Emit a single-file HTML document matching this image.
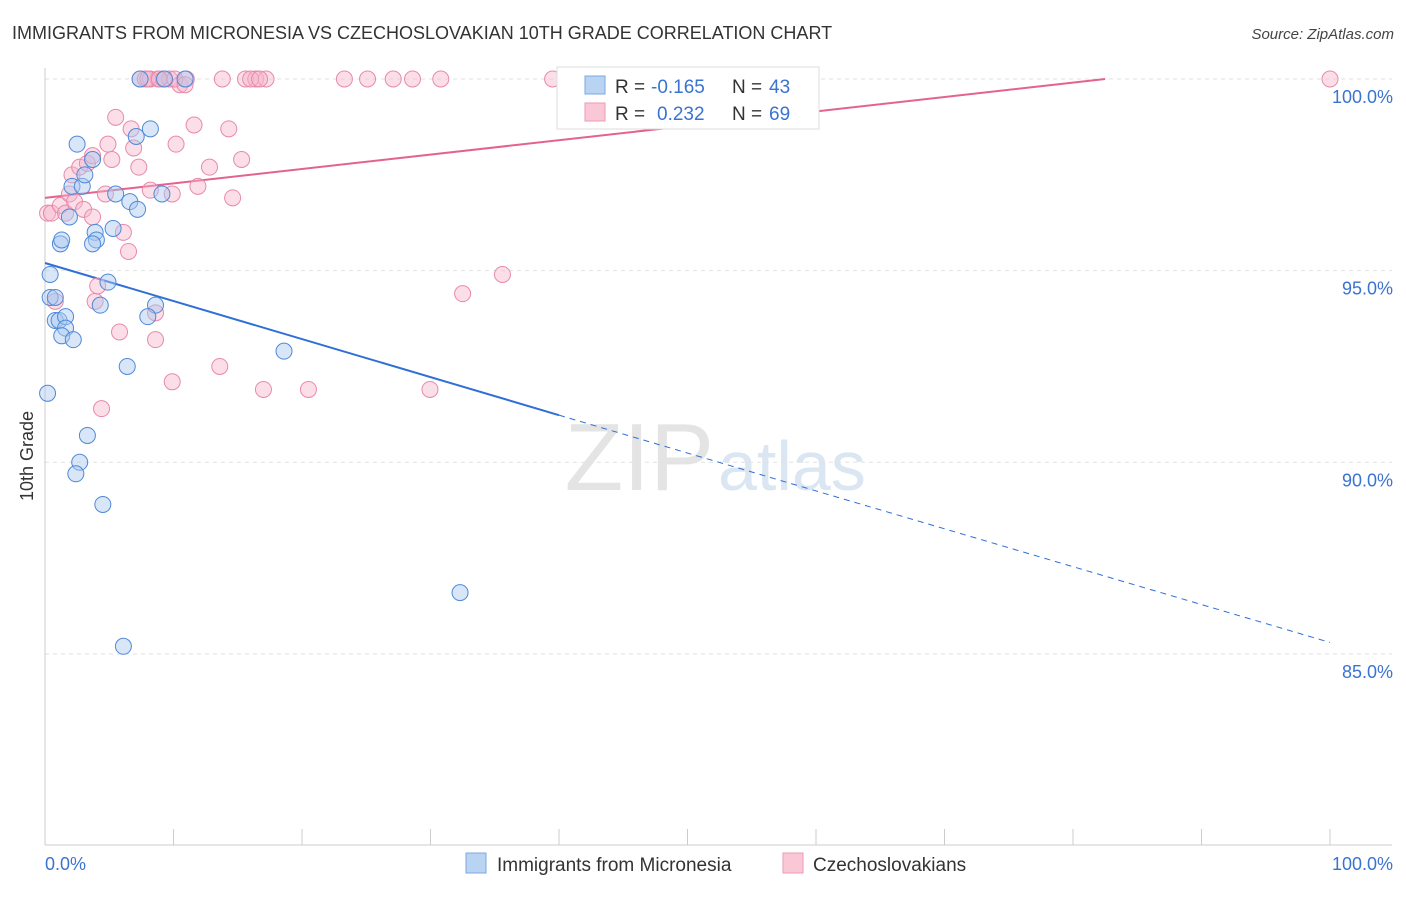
<!DOCTYPE html>
<html><head><meta charset="utf-8"><style>
body{margin:0;background:#fff;font-family:"Liberation Sans",sans-serif;}
svg text{font-family:"Liberation Sans",sans-serif;}
</style></head><body>
<svg id="chart" width="1406" height="892" xmlns="http://www.w3.org/2000/svg">
<text x="12" y="39" font-size="18" fill="#333">IMMIGRANTS FROM MICRONESIA VS CZECHOSLOVAKIAN 10TH GRADE CORRELATION CHART</text>
<text x="1394" y="39" font-size="15" fill="#444" text-anchor="end" font-style="italic">Source: ZipAtlas.com</text>
<text x="714" y="490" font-size="96" fill="#e4e4e4" text-anchor="end" font-family="Liberation Serif">ZIP</text>
<text x="718" y="490" font-size="70" fill="#dbe6f3">atlas</text>
<g id="grid"></g><g id="axes"></g><g id="lines"></g><g id="pts"></g>
<text transform="translate(33,456) rotate(-90)" font-size="18" fill="#333" text-anchor="middle">10th Grade</text>
<g>
<rect x="557" y="67" width="262" height="62" fill="#fff" stroke="#ddd"/>
<rect x="585" y="76" width="20" height="18" fill="#b9d3f3" stroke="#7aa8e0"/>
<rect x="585" y="103" width="20" height="18" fill="#f9c7d6" stroke="#ee9ab3"/>
<text x="615" y="93" font-size="19" fill="#333">R =</text>
<text x="651" y="93" font-size="19" fill="#3a73d1">-0.165</text>
<text x="732" y="93" font-size="19" fill="#333">N =</text>
<text x="769" y="93" font-size="19" fill="#3a73d1">43</text>
<text x="615" y="120" font-size="19" fill="#333">R =</text>
<text x="657" y="120" font-size="19" fill="#3a73d1">0.232</text>
<text x="732" y="120" font-size="19" fill="#333">N =</text>
<text x="769" y="120" font-size="19" fill="#3a73d1">69</text>
</g>
<g>
<rect x="466" y="853" width="20" height="20" fill="#b9d3f3" stroke="#7aa8e0"/>
<text x="497" y="871" font-size="19" fill="#333">Immigrants from Micronesia</text>
<rect x="783" y="853" width="20" height="20" fill="#f9c7d6" stroke="#ee9ab3"/>
<text x="813" y="871" font-size="19" fill="#333">Czechoslovakians</text>
</g>
</svg>
<script>
const yTicks=[100,95,90,85];
const xTickLabels=["0.0%","100.0%"];
const blueX=[0.2,0.4,0.4,0.8,0.8,1.1,1.6,1.6,1.3,2.2,1.2,1.3,1.9,2.1,2.5,2.9,3.1,3.7,3.9,4.0,3.7,4.9,4.3,5.5,5.3,6.6,7.2,7.1,8.2,9.1,8.6,8.0,6.4,3.3,2.7,2.4,4.5,6.1,18.6,32.3,7.4,9.3,10.9];
const blueY=[91.8,94.9,94.3,94.3,93.7,93.7,93.8,93.5,93.3,93.2,95.7,95.8,96.4,97.2,98.3,97.2,97.5,97.9,96.0,95.8,95.7,94.7,94.1,97.0,96.1,96.8,96.6,98.5,98.7,97.0,94.1,93.8,92.5,90.7,90.0,89.7,88.9,85.2,92.9,86.6,100,100,100];
const pinkX=[0.2,0.5,0.8,1.2,1.6,1.9,2.1,2.3,2.7,3.0,3.3,3.7,3.7,3.9,4.1,4.4,4.7,4.9,5.2,5.5,5.8,6.1,6.5,6.7,6.9,7.3,8.2,8.6,8.6,9.9,9.9,10.2,11.6,11.9,12.8,13.6,14.3,14.6,15.3,17.0,20.5,29.96,32.5,35.6,7.4,7.8,8.2,8.8,9.2,9.7,10.5,11.0,13.8,15.6,16.4,17.2,23.3,25.1,27.1,28.6,30.8,39.5,100,8.0,8.9,10.1,16.0,16.7,10.9];
const pinkY=[96.5,96.5,94.2,96.7,96.5,97.0,97.5,96.8,97.7,96.6,97.8,98.0,96.4,94.2,94.6,91.4,97.0,98.3,97.9,99.0,93.4,96.0,95.5,98.7,98.2,97.7,97.1,93.9,93.2,92.1,97.0,98.3,98.8,97.2,97.7,92.5,98.7,96.9,97.9,91.9,91.9,91.9,94.4,94.9,100,100,100,100,100,100,99.85,100,100,100,100,100,100,100,100,100,100,100,100,100,100,100,100,100,99.85];
const NS="http://www.w3.org/2000/svg";
const X=v=>45+v*12.85, Y=v=>79+(100-v)*38.33;
function mk(tag,attrs,parent){const e=document.createElementNS(NS,tag);for(const k in attrs)e.setAttribute(k,attrs[k]);document.getElementById(parent).appendChild(e);return e;}
yTicks.forEach(t=>{
 const l=mk('line',{x1:45,x2:1392,y1:Y(t),y2:Y(t),stroke:'#e2e2e2','stroke-dasharray':'4,4'},'grid');
 
 
 const tx=mk('text',{x:1393,y:Y(t)+24,'font-size':18,fill:'#3a73d1','text-anchor':'end'},'grid');
 tx.textContent=t.toFixed(1)+'%';
 
 
});
const ax=mk('line',{x1:45,x2:45,y1:68,y2:845,stroke:'#ccc'},'axes');


const bx=mk('line',{x1:45,x2:1392,y1:845,y2:845,stroke:'#ccc'},'axes');


for(let i=0;i<=10;i++){const t=mk('line',{x1:X(i*10),x2:X(i*10),y1:829,y2:845,stroke:'#ccc'},'axes');
 
 }
xTickLabels.forEach((s,i)=>{const t=mk('text',{x:i?1393:45,y:870,'font-size':18,fill:'#3a73d1','text-anchor':i?'end':'start'},'axes');t.textContent=s;
 
 });
const b1=mk('line',{x1:X(0),y1:Y(95.2),x2:X(40),y2:Y(91.23),stroke:'#2f6fd6','stroke-width':2},'lines');


const b2=mk('line',{x1:X(40),y1:Y(91.23),x2:X(100),y2:Y(85.3),stroke:'#2f6fd6','stroke-width':1,'stroke-dasharray':'6,5'},'lines');


const p1=mk('line',{x1:X(0),y1:Y(96.9),x2:X(82.5),y2:Y(100),stroke:'#e4628f','stroke-width':2},'lines');


function pts(xs,ys,fill,stroke,name){xs.forEach((v,i)=>{const c=mk('circle',{cx:X(v),cy:Y(ys[i]),r:8,fill:fill,'fill-opacity':0.45,stroke:stroke,'stroke-width':1},'pts');
 
 });}
pts(pinkX,pinkY,'#f7b6cb','#e88aa9','czechoslovakians-point');
pts(blueX,blueY,'#a9c8ef','#4f89d8','micronesia-point');
</script>
</body></html>
